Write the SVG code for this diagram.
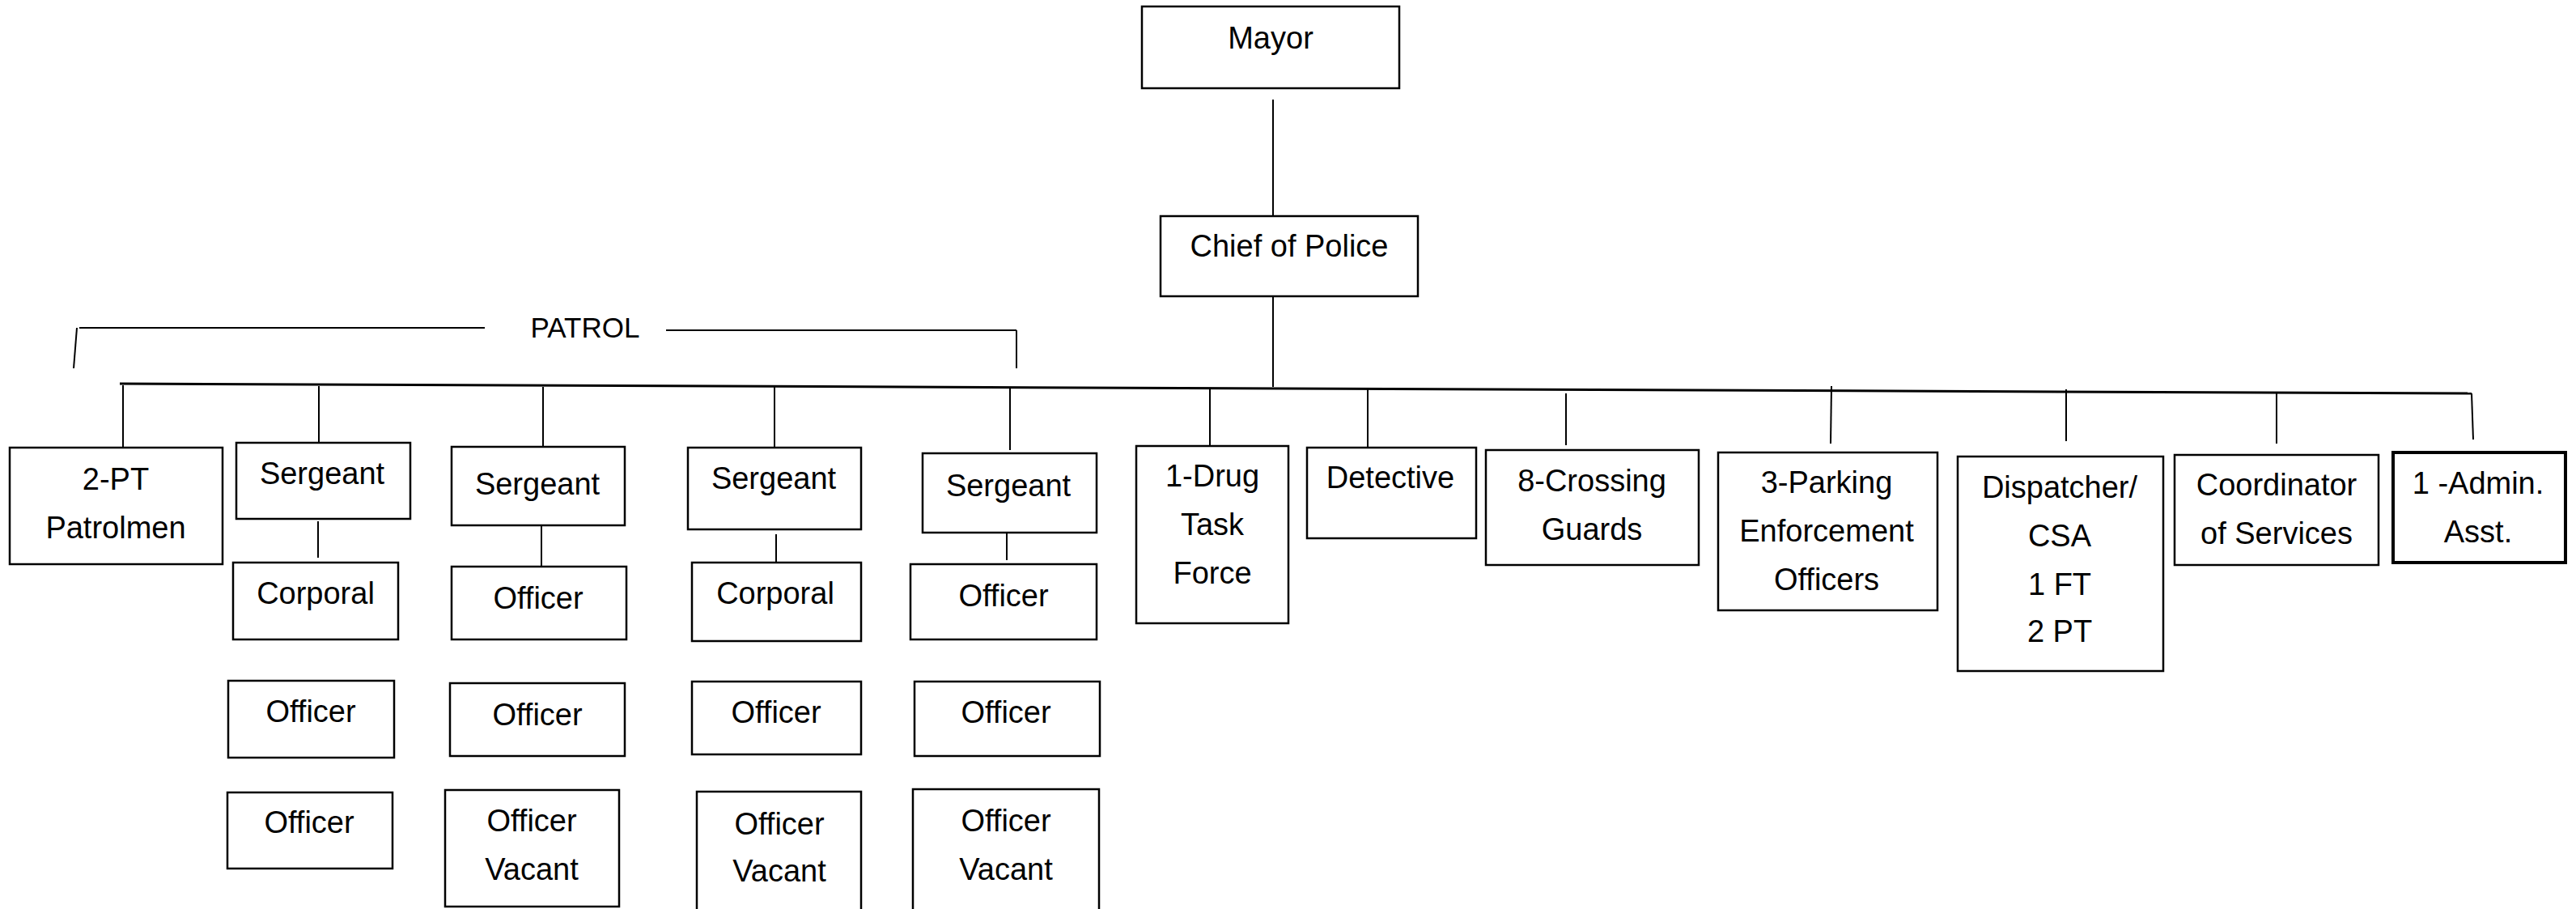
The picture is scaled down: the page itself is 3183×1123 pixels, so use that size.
<svg xmlns="http://www.w3.org/2000/svg" width="3183" height="1123" viewBox="0 0 3183 1123">
<style>
.box{fill:#fff;stroke:#000;stroke-width:2.5}
.thick{stroke-width:4}
.t{font-family:"Liberation Sans",Arial,sans-serif;font-size:38px;fill:#000;text-anchor:middle}
.ln{stroke:#000;stroke-width:2;fill:none}
.main{stroke:#000;stroke-width:3;fill:none}
</style>
<rect width="3183" height="1123" fill="#fff"/>
<g id="connectors">
<line class="ln" x1="1573" y1="123" x2="1573" y2="267"/>
<line class="ln" x1="1573" y1="366" x2="1573" y2="478"/>
<line class="main" x1="148" y1="474" x2="3054" y2="486"/>
<line class="ln" x1="152" y1="476" x2="152" y2="553"/>
<line class="ln" x1="394" y1="477" x2="394" y2="547"/>
<line class="ln" x1="671" y1="478" x2="671" y2="552"/>
<line class="ln" x1="957" y1="476" x2="957" y2="553"/>
<line class="ln" x1="1248" y1="479" x2="1248" y2="556"/>
<line class="ln" x1="1495" y1="480" x2="1495" y2="551"/>
<line class="ln" x1="1690" y1="481" x2="1690" y2="553"/>
<line class="ln" x1="1935" y1="486" x2="1935" y2="550"/>
<line class="ln" x1="2263" y1="477" x2="2262" y2="548"/>
<line class="ln" x1="2553" y1="481" x2="2553" y2="545"/>
<line class="ln" x1="2813" y1="485" x2="2813" y2="548"/>
<line class="ln" x1="3054" y1="486" x2="3056" y2="543"/>
<line class="ln" x1="393" y1="644" x2="393" y2="689"/>
<line class="ln" x1="669" y1="649" x2="669" y2="700"/>
<line class="ln" x1="959" y1="660" x2="959" y2="695"/>
<line class="ln" x1="1244" y1="659" x2="1244" y2="692"/>
<line class="ln" x1="98" y1="405" x2="599" y2="405"/>
<line class="ln" x1="95" y1="405" x2="91" y2="455"/>
<line class="ln" x1="823" y1="408" x2="1256" y2="408"/>
<line class="ln" x1="1256" y1="408" x2="1256" y2="455"/>
</g>
<g id="patrol"><text class="t" x="723" y="417" style="font-size:35px">PATROL</text></g>
<g id="mayor"><rect class="box" x="1411" y="8" width="318" height="101"/><text class="t" x="1570" y="60">Mayor</text></g>
<g id="chief"><rect class="box" x="1434" y="267" width="318" height="99"/><text class="t" x="1593" y="317">Chief of Police</text></g>
<g id="patrolmen"><rect class="box" x="12" y="553" width="263" height="144"/><text class="t" x="143" y="605">2-PT</text><text class="t" x="143" y="665">Patrolmen</text></g>
<g id="sgt1"><rect class="box" x="292" y="547" width="215" height="94"/><text class="t" x="398" y="598">Sergeant</text></g>
<g id="corporal1"><rect class="box" x="288" y="695" width="204" height="95"/><text class="t" x="390" y="746">Corporal</text></g>
<g id="officer1a"><rect class="box" x="282" y="841" width="205" height="95"/><text class="t" x="384" y="892">Officer</text></g>
<g id="officer1b"><rect class="box" x="281" y="979" width="204" height="94"/><text class="t" x="382" y="1029">Officer</text></g>
<g id="sgt2"><rect class="box" x="558" y="552" width="214" height="97"/><text class="t" x="664" y="611">Sergeant</text></g>
<g id="officer2a"><rect class="box" x="558" y="700" width="216" height="90"/><text class="t" x="665" y="752">Officer</text></g>
<g id="officer2b"><rect class="box" x="556" y="844" width="216" height="90"/><text class="t" x="664" y="896">Officer</text></g>
<g id="officer2c"><rect class="box" x="550" y="976" width="215" height="144"/><text class="t" x="657" y="1027">Officer</text><text class="t" x="657" y="1087">Vacant</text></g>
<g id="sgt3"><rect class="box" x="850" y="553" width="214" height="101"/><text class="t" x="956" y="604">Sergeant</text></g>
<g id="corporal3"><rect class="box" x="855" y="695" width="209" height="97"/><text class="t" x="958" y="746">Corporal</text></g>
<g id="officer3b"><rect class="box" x="855" y="842" width="209" height="90"/><text class="t" x="959" y="893">Officer</text></g>
<g id="officer3c"><rect class="box" x="861" y="978" width="203" height="150"/><text class="t" x="963" y="1031">Officer</text><text class="t" x="963" y="1089">Vacant</text></g>
<g id="sgt4"><rect class="box" x="1140" y="560" width="215" height="98"/><text class="t" x="1246" y="613">Sergeant</text></g>
<g id="officer4a"><rect class="box" x="1125" y="697" width="230" height="93"/><text class="t" x="1240" y="749">Officer</text></g>
<g id="officer4b"><rect class="box" x="1130" y="842" width="229" height="92"/><text class="t" x="1243" y="893">Officer</text></g>
<g id="officer4c"><rect class="box" x="1128" y="975" width="230" height="153"/><text class="t" x="1243" y="1027">Officer</text><text class="t" x="1243" y="1087">Vacant</text></g>
<g id="drug"><rect class="box" x="1404" y="551" width="188" height="219"/><text class="t" x="1498" y="601">1-Drug</text><text class="t" x="1498" y="661">Task</text><text class="t" x="1498" y="721">Force</text></g>
<g id="detective"><rect class="box" x="1615" y="553" width="209" height="112"/><text class="t" x="1718" y="603">Detective</text></g>
<g id="crossing"><rect class="box" x="1836" y="556" width="263" height="142"/><text class="t" x="1967" y="607">8-Crossing</text><text class="t" x="1967" y="667">Guards</text></g>
<g id="parking"><rect class="box" x="2123" y="559" width="271" height="195"/><text class="t" x="2257" y="609">3-Parking</text><text class="t" x="2257" y="669">Enforcement</text><text class="t" x="2257" y="729">Officers</text></g>
<g id="dispatcher"><rect class="box" x="2419" y="564" width="254" height="265"/><text class="t" x="2545" y="615">Dispatcher/</text><text class="t" x="2545" y="675">CSA</text><text class="t" x="2545" y="735">1 FT</text><text class="t" x="2545" y="793">2 PT</text></g>
<g id="coordinator"><rect class="box" x="2687" y="562" width="252" height="136"/><text class="t" x="2813" y="612">Coordinator</text><text class="t" x="2813" y="672">of Services</text></g>
<g id="admin"><rect class="box thick" x="2957" y="559" width="213" height="136"/><text class="t" x="3062" y="610">1 -Admin.</text><text class="t" x="3062" y="670">Asst.</text></g>
</svg>
